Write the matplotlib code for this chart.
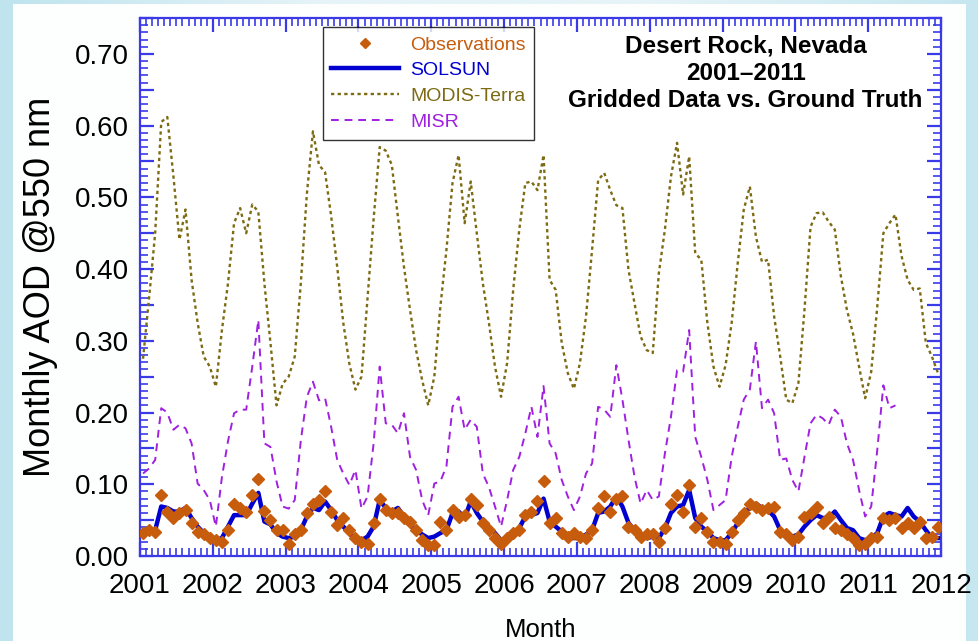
import numpy as np
import matplotlib
matplotlib.use("Agg")
import matplotlib.pyplot as plt
from matplotlib.ticker import MultipleLocator, FuncFormatter
from matplotlib.patches import Rectangle

plt.rcParams['font.family'] = ['Liberation Sans', 'DejaVu Sans']

# ---------------- data (monthly, Jan 2001 .. Dec 2011) ----------------
start_year = 2001
n_months = 132

observations = [
    0.032, 0.036, 0.034, 0.085, 0.062, 0.053, 0.060, 0.064, 0.046, 0.034, 0.030, 0.025,
    0.022, 0.020, 0.036, 0.073, 0.067, 0.062, 0.085, 0.108, 0.063, 0.050, 0.036, 0.036,
    0.017, 0.030, 0.036, 0.060, 0.073, 0.078, 0.090, 0.062, 0.043, 0.053, 0.036, 0.025,
    0.020, 0.017, 0.046, 0.080, 0.064, 0.060, 0.060, 0.053, 0.048, 0.036, 0.022, 0.015,
    0.015, 0.048, 0.036, 0.064, 0.055, 0.057, 0.080, 0.071, 0.046, 0.036, 0.025, 0.017,
    0.025, 0.032, 0.036, 0.057, 0.062, 0.076, 0.105, 0.046, 0.053, 0.032, 0.027, 0.032,
    0.027, 0.025, 0.036, 0.067, 0.083, 0.062, 0.080, 0.083, 0.041, 0.036, 0.027, 0.030,
    0.030, 0.020, 0.039, 0.073, 0.085, 0.062, 0.099, 0.041, 0.053, 0.034, 0.020, 0.020,
    0.017, 0.034, 0.050, 0.060, 0.072, 0.069, 0.064, 0.067, 0.069, 0.034, 0.030, 0.022,
    0.027, 0.055, 0.060, 0.069, 0.046, 0.055, 0.039, 0.036, 0.030, 0.025, 0.015, 0.017,
    0.025, 0.027, 0.053, 0.050, 0.053, 0.039, 0.046, 0.039, 0.047, 0.025, 0.027, 0.041,
]

solsun = [
    0.030, 0.032, 0.036, 0.069, 0.067, 0.062, 0.062, 0.067, 0.053, 0.041, 0.032, 0.027,
    0.022, 0.025, 0.041, 0.057, 0.057, 0.057, 0.073, 0.088, 0.048, 0.044, 0.032, 0.027,
    0.025, 0.027, 0.036, 0.055, 0.067, 0.064, 0.076, 0.064, 0.050, 0.041, 0.032, 0.025,
    0.022, 0.027, 0.041, 0.078, 0.067, 0.062, 0.067, 0.055, 0.044, 0.036, 0.030, 0.025,
    0.027, 0.032, 0.036, 0.060, 0.062, 0.053, 0.076, 0.060, 0.048, 0.041, 0.032, 0.022,
    0.025, 0.032, 0.039, 0.055, 0.057, 0.060, 0.080, 0.048, 0.041, 0.034, 0.025, 0.025,
    0.025, 0.030, 0.036, 0.060, 0.062, 0.069, 0.083, 0.069, 0.046, 0.036, 0.027, 0.025,
    0.027, 0.025, 0.039, 0.060, 0.069, 0.071, 0.092, 0.053, 0.041, 0.034, 0.025, 0.022,
    0.022, 0.032, 0.046, 0.060, 0.067, 0.073, 0.067, 0.064, 0.055, 0.036, 0.030, 0.027,
    0.030, 0.041, 0.050, 0.057, 0.053, 0.053, 0.062, 0.050, 0.039, 0.036, 0.025, 0.022,
    0.025, 0.032, 0.055, 0.060, 0.057, 0.055, 0.067, 0.055, 0.048, 0.036, 0.025, 0.025,
]

modis_terra = [
    0.275, 0.360, 0.450, 0.605, 0.612, 0.530, 0.441, 0.483, 0.385, 0.325, 0.278, 0.264,
    0.236, 0.315, 0.380, 0.464, 0.485, 0.450, 0.490, 0.480, 0.380, 0.297, 0.210, 0.240,
    0.250, 0.278, 0.380, 0.505, 0.592, 0.545, 0.535, 0.474, 0.403, 0.325, 0.268, 0.232,
    0.250, 0.360, 0.470, 0.570, 0.565, 0.545, 0.473, 0.403, 0.343, 0.287, 0.245, 0.210,
    0.250, 0.348, 0.427, 0.520, 0.559, 0.464, 0.522, 0.450, 0.380, 0.325, 0.264, 0.222,
    0.269, 0.371, 0.455, 0.520, 0.522, 0.510, 0.559, 0.385, 0.371, 0.297, 0.255, 0.233,
    0.269, 0.334, 0.427, 0.524, 0.534, 0.510, 0.489, 0.485, 0.399, 0.352, 0.306, 0.287,
    0.283, 0.394, 0.455, 0.529, 0.576, 0.504, 0.557, 0.422, 0.413, 0.325, 0.264, 0.236,
    0.266, 0.325, 0.408, 0.483, 0.515, 0.445, 0.410, 0.413, 0.334, 0.278, 0.218, 0.213,
    0.241, 0.343, 0.459, 0.478, 0.479, 0.466, 0.455, 0.390, 0.343, 0.310, 0.264, 0.220,
    0.257, 0.348, 0.450, 0.464, 0.476, 0.418, 0.385, 0.371, 0.373, 0.297, 0.278, 0.255,
]

nan = float('nan')
misr = [
    0.115, 0.122, 0.134, 0.206, 0.200, 0.176, 0.183, 0.178, 0.157, 0.101, 0.092, 0.078,
    0.041, 0.110, 0.160, 0.199, 0.204, 0.204, 0.264, 0.329, 0.157, 0.152, 0.104, 0.069,
    0.066, 0.078, 0.161, 0.222, 0.243, 0.217, 0.220, 0.180, 0.134, 0.115, 0.099, 0.120,
    0.066, 0.083, 0.157, 0.264, 0.185, 0.183, 0.171, 0.199, 0.138, 0.120, 0.078, 0.057,
    0.101, 0.104, 0.125, 0.208, 0.222, 0.176, 0.190, 0.180, 0.115, 0.096, 0.069, 0.041,
    0.078, 0.120, 0.138, 0.171, 0.208, 0.166, 0.237, 0.157, 0.143, 0.106, 0.083, 0.064,
    0.083, 0.115, 0.129, 0.208, 0.204, 0.194, 0.266, 0.218, 0.162, 0.110, 0.073, 0.092,
    0.078, 0.083, 0.143, 0.194, 0.259, 0.257, 0.315, 0.166, 0.138, 0.106, 0.064, 0.071,
    0.078, 0.138, 0.180, 0.218, 0.232, 0.299, 0.206, 0.218, 0.199, 0.134, 0.136, 0.106,
    0.090, 0.138, 0.185, 0.197, 0.192, 0.183, 0.204, 0.194, 0.157, 0.134, 0.092, 0.055,
    0.069, 0.148, 0.238, 0.206, 0.210, nan, nan, nan, nan, nan, nan, nan,
]

series_labels = ["Observations", "SOLSUN", "MODIS-Terra", "MISR"]
year_ticks = list(range(2001, 2013))
title_lines = ["Desert Rock, Nevada", "2001\u20132011", "Gridded Data vs. Ground Truth"]

# time axis: mid-month decimal years
t = start_year + (np.arange(n_months) + 0.5) / 12.0

# ---------------- figure ----------------
W, H = 979, 641
fig = plt.figure(figsize=(W / 100, H / 100), dpi=100)
fig.patch.set_facecolor('#cfeaf2')

# soft blue frame with white panel
bg = fig.add_axes([0, 0, 1, 1], zorder=-10)
bg.set_axis_off()
gx = np.linspace(0, 1, 400)
grad = np.tile(gx, (10, 1))
bg.imshow(grad, extent=[0, 1, 0, 1], aspect='auto',
          cmap=matplotlib.colors.LinearSegmentedColormap.from_list(
              'bgc', ['#bfe4ee', '#e6f4f8', '#e6f4f8', '#c6e7f0']),
          transform=bg.transAxes)
bg.add_patch(Rectangle((13 / W, 0), (966 - 13) / W, 1 - 4 / H,
                       transform=bg.transAxes, facecolor='#fdfefe',
                       edgecolor='none'))
bg.set_xlim(0, 1)
bg.set_ylim(0, 1)

ax = fig.add_axes([140 / W, (H - 556) / H, (941 - 140) / W, (556 - 18) / H])
ax.set_facecolor('white')

c_obs = '#c65c0c'
c_sol = '#0000d0'
c_mod = '#7d6b14'
c_misr = '#a020e0'

ax.plot(t, modis_terra, color=c_mod, lw=1.7, linestyle=(0, (1.4, 1.4)),
        label=series_labels[2], zorder=2)
ax.plot(t, misr, color=c_misr, lw=1.4, linestyle=(0, (4, 3)),
        label=series_labels[3], zorder=2)
ax.plot(t, solsun, color=c_sol, lw=3.2, label=series_labels[1], zorder=3,
        solid_joinstyle='round')
ax.plot(t, observations, linestyle='none', marker='D', markersize=6.5,
        color=c_obs, markeredgecolor=c_obs, label=series_labels[0], zorder=4)

ax.set_xlim(2001, 2012)
ax.set_ylim(0, 0.75)

ax.set_xticks(year_ticks)
ax.set_xticklabels([str(y) for y in year_ticks])
ax.xaxis.set_minor_locator(MultipleLocator(1 / 12))
ax.yaxis.set_major_locator(MultipleLocator(0.05))
ax.yaxis.set_major_formatter(FuncFormatter(
    lambda v, p: f"{v:.2f}" if int(round(v * 100)) % 10 == 0 else ""))
ax.yaxis.set_minor_locator(MultipleLocator(0.01))

frame_c = '#3a3ae8'
for sp in ax.spines.values():
    sp.set_color(frame_c)
    sp.set_linewidth(1.6)
ax.tick_params(which='both', direction='in', top=True, right=True,
               color=frame_c, labelsize=20)
ax.tick_params(axis='x', which='major', pad=12)
ax.tick_params(axis='y', which='major', pad=8)
ax.tick_params(which='major', length=10, width=1.6)
ax.tick_params(which='minor', length=6, width=1.2)

ax.set_ylabel("Monthly AOD @550 nm", fontsize=26, labelpad=12)
ax.set_xlabel("Month", fontsize=18.5, labelpad=14)

# legend
leg = ax.legend(handles=[ax.lines[3], ax.lines[2], ax.lines[0], ax.lines[1]],
                loc='upper left', bbox_to_anchor=(0.228, 0.983),
                fontsize=14, frameon=True, fancybox=False,
                handlelength=3.5, handletextpad=0.55, borderpad=0.45,
                labelspacing=0.42, borderaxespad=0, markerscale=0.85)
leg.get_frame().set_edgecolor('black')
leg.get_frame().set_linewidth(1.0)
for txt, col in zip(leg.get_texts(), [c_obs, c_sol, c_mod, c_misr]):
    txt.set_color(col)

ax.text(0.756, 0.970, "\n".join(title_lines), transform=ax.transAxes,
        ha='center', va='top', fontsize=17.5, fontweight='bold',
        linespacing=1.25, color='black')

fig.savefig("out.png", dpi=100, facecolor=fig.get_facecolor())
